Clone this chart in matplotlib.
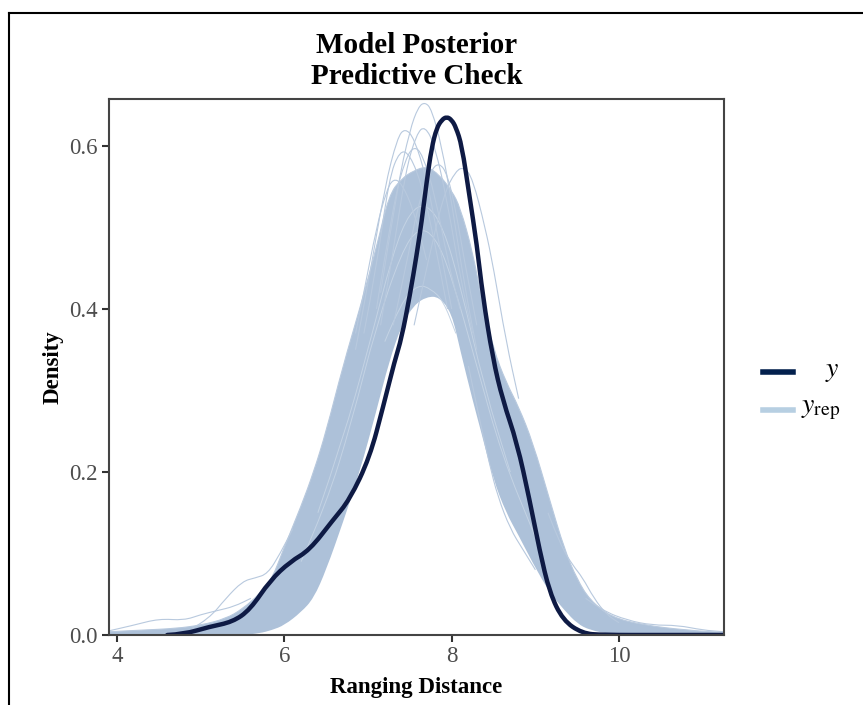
import numpy as np
import matplotlib
matplotlib.use("Agg")
from matplotlib import pyplot as plt
from matplotlib.lines import Line2D
from matplotlib.path import Path
from matplotlib.patches import PathPatch

y_x = [4.6, 4.8, 5.1, 5.38, 5.59, 5.83, 6.07, 6.30, 6.58, 6.78, 7.02, 7.18,
       7.32, 7.40, 7.50, 7.58, 7.64, 7.70, 7.76, 7.82, 7.88, 7.94, 8.00,
       8.05, 8.12, 8.21, 8.30, 8.37, 8.49, 8.61, 8.78, 8.93, 9.05, 9.17,
       9.33, 9.56, 9.80, 10.5, 11.3]
y_dens = [0.0, 0.001, 0.010, 0.016, 0.031, 0.067, 0.090, 0.104, 0.141, 0.166,
          0.218, 0.280, 0.337, 0.364, 0.417, 0.466, 0.507, 0.556, 0.598, 0.622,
          0.632, 0.636, 0.632, 0.623, 0.601, 0.540, 0.479, 0.417, 0.340, 0.288,
          0.236, 0.166, 0.104, 0.052, 0.018, 0.002, 0.0, 0.0, 0.0]

# envelope of the dense y_rep bundle
band_x = [3.90, 4.30, 4.70, 5.00, 5.30, 5.50, 5.70, 5.85, 6.00, 6.20, 6.35,
          6.50, 6.70, 6.90, 7.10, 7.25, 7.40, 7.55, 7.70, 7.85, 8.00, 8.10,
          8.25, 8.35, 8.50, 8.65, 8.80, 8.97, 9.17, 9.35, 9.50, 9.65, 9.90,
          10.30, 10.80, 11.25]
band_hi = [0.004, 0.006, 0.008, 0.012, 0.020, 0.032, 0.050, 0.068, 0.108,
           0.158, 0.200, 0.250, 0.330, 0.400, 0.475, 0.540, 0.560, 0.570,
           0.575, 0.565, 0.545, 0.525, 0.470, 0.415, 0.350, 0.310, 0.280,
           0.236, 0.166, 0.104, 0.068, 0.043, 0.022, 0.012, 0.006, 0.003]
band_lo = [0.0, 0.0, 0.0, 0.0, 0.0, 0.0, 0.002, 0.006, 0.012, 0.028, 0.045,
           0.080, 0.138, 0.200, 0.275, 0.335, 0.380, 0.405, 0.415, 0.415,
           0.395, 0.350, 0.288, 0.250, 0.190, 0.150, 0.122, 0.088, 0.052,
           0.030, 0.014, 0.006, 0.001, 0.0, 0.0, 0.0]

# single y_rep draws that stick out of the bundle
rep_curves = [
    ([7.15, 7.35, 7.50, 7.60, 7.68, 7.76, 7.88, 8.00, 8.15, 8.30],
     [0.42, 0.55, 0.62, 0.648, 0.654, 0.645, 0.60, 0.53, 0.43, 0.35]),
    ([6.85, 7.00, 7.20, 7.35, 7.44, 7.55, 7.70, 7.85, 8.00],
     [0.35, 0.43, 0.55, 0.61, 0.622, 0.61, 0.56, 0.48, 0.40]),
    ([6.95, 7.10, 7.25, 7.38, 7.50, 7.65, 7.80, 7.95],
     [0.37, 0.45, 0.56, 0.595, 0.59, 0.55, 0.48, 0.40]),
    ([7.15, 7.30, 7.45, 7.58, 7.68, 7.80, 7.95, 8.10, 8.25],
     [0.38, 0.47, 0.57, 0.615, 0.625, 0.60, 0.53, 0.44, 0.37]),
    ([7.55, 7.70, 7.90, 8.05, 8.15, 8.25, 8.40, 8.50, 8.65, 8.80],
     [0.38, 0.45, 0.54, 0.57, 0.574, 0.56, 0.50, 0.45, 0.36, 0.29]),
    ([6.85, 6.95, 7.10, 7.22, 7.30, 7.40, 7.55, 7.70],
     [0.37, 0.42, 0.50, 0.545, 0.56, 0.555, 0.52, 0.46]),
    ([7.10, 7.30, 7.45, 7.55, 7.65, 7.80, 7.95, 8.10],
     [0.40, 0.53, 0.585, 0.60, 0.59, 0.54, 0.46, 0.40]),
    ([7.30, 7.45, 7.60, 7.75, 7.85, 7.95, 8.05, 8.15, 8.30],
     [0.38, 0.45, 0.53, 0.57, 0.58, 0.565, 0.52, 0.46, 0.38]),
    ([4.90, 5.10, 5.30, 5.50, 5.65, 5.80, 5.95, 6.10],
     [0.008, 0.020, 0.045, 0.066, 0.070, 0.075, 0.10, 0.13]),
    ([3.90, 4.20, 4.50, 4.80, 5.00, 5.20, 5.40, 5.60],
     [0.005, 0.012, 0.020, 0.018, 0.025, 0.030, 0.035, 0.045]),
    ([8.20, 8.30, 8.45, 8.55, 8.70, 8.85, 9.00],
     [0.33, 0.28, 0.21, 0.17, 0.13, 0.105, 0.08]),
    ([9.15, 9.30, 9.45, 9.56, 9.70, 9.85, 10.0],
     [0.15, 0.11, 0.085, 0.071, 0.045, 0.025, 0.015]),
    ([9.60, 9.80, 10.10, 10.40, 10.70, 11.00, 11.25],
     [0.045, 0.030, 0.018, 0.012, 0.012, 0.006, 0.004]),
]

# faint draws inside the bundle (lighter streaks)
inner_curves = [
    ([7.20, 7.40, 7.60, 7.75, 7.90, 8.05],
     [0.36, 0.41, 0.43, 0.425, 0.41, 0.37]),
    ([6.40, 6.70, 7.00, 7.30, 7.50, 7.70, 7.90, 8.10, 8.40, 8.70],
     [0.15, 0.24, 0.35, 0.47, 0.52, 0.53, 0.50, 0.43, 0.30, 0.20]),
    ([6.20, 6.50, 6.80, 7.10, 7.40, 7.60, 7.80, 8.00, 8.30, 8.60, 9.00],
     [0.09, 0.16, 0.26, 0.38, 0.47, 0.50, 0.49, 0.44, 0.33, 0.22, 0.12]),
]

x_ticks = [4, 6, 8, 10]
y_ticks = [0.0, 0.2, 0.4, 0.6]

dark = "#0e1a44"
light = "#b8c9de"
band_col = "#adc1d9"


def smooth_path(xs, ys, first=Path.MOVETO):
    # quadratic bezier through midpoints, points act as control points
    verts = [(xs[0], ys[0])]
    codes = [first]
    for i in range(1, len(xs) - 1):
        verts.append((xs[i], ys[i]))
        verts.append(((xs[i] + xs[i + 1]) / 2, (ys[i] + ys[i + 1]) / 2))
        codes += [Path.CURVE3, Path.CURVE3]
    verts.append((xs[-1], ys[-1]))
    codes.append(Path.LINETO)
    return verts, codes


def draw_line(ax, xs, ys, **kw):
    v, c = smooth_path(xs, ys)
    ax.add_patch(PathPatch(Path(v, c), fill=False, **kw))


def draw_band(ax, xs, lo, hi, color):
    v1, c1 = smooth_path(xs, hi)
    v2, c2 = smooth_path(xs[::-1], lo[::-1], first=Path.LINETO)
    v = v1 + v2 + [(xs[0], hi[0])]
    c = c1 + c2 + [Path.CLOSEPOLY]
    ax.add_patch(PathPatch(Path(v, c), facecolor=color, edgecolor="none"))


def main():
    plt.rcParams["font.family"] = ["Liberation Serif", "DejaVu Serif"]
    plt.rcParams["mathtext.fontset"] = "stix"

    fig = plt.figure(figsize=(8.63, 7.05), dpi=100)
    ax = fig.add_axes([109 / 863, 1 - 635 / 705, 615 / 863, 536 / 705])

    draw_band(ax, band_x, band_lo, band_hi, band_col)
    draw_line(ax, band_x, band_hi, edgecolor=light, lw=0.8)
    for cx, cy in inner_curves:
        draw_line(ax, cx, cy, edgecolor="#c4d3e4", lw=0.7)
    for cx, cy in rep_curves:
        draw_line(ax, cx, cy, edgecolor=light, lw=0.8)
    draw_line(ax, y_x, y_dens, edgecolor=dark, lw=3.2, capstyle="round",
              joinstyle="round", zorder=5)

    ax.set_xlim(3.904, 11.254)
    ax.set_ylim(0, 0.6577)
    ax.set_xticks(x_ticks)
    ax.set_xticklabels([str(t) for t in x_ticks])
    ax.set_yticks(y_ticks)
    ax.set_yticklabels(["%.1f" % t for t in y_ticks])
    ax.tick_params(direction="out", length=5, width=1.5, color="#333333",
                   labelcolor="#4d4d4d", labelsize=16.5, pad=3)
    for s in ax.spines.values():
        s.set_color("#444444")
        s.set_linewidth(1.5)
        s.set_zorder(6)

    fig.text(416.5 / 863, 1 - 61 / 705, "Model Posterior\nPredictive Check",
             ha="center", va="center", fontsize=21, fontweight="bold",
             linespacing=1.15)
    fig.text(416.5 / 863, 1 - 688 / 705, "Ranging Distance", ha="center",
             va="center", fontsize=16.5, fontweight="bold")
    fig.text(53 / 863, 1 - 367 / 705, "Density", ha="center", va="center",
             rotation=90, fontsize=16.5, fontweight="bold")

    # legend drawn by hand
    fig.add_artist(Line2D([763 / 863, 793 / 863], [1 - 372 / 705] * 2,
                          color="#03204d", lw=4))
    fig.add_artist(Line2D([763 / 863, 793 / 863], [1 - 410 / 705] * 2,
                          color="#b7cfe2", lw=4))
    fig.text(839 / 863, 1 - 372 / 705, "$y$", ha="right", va="center",
             fontsize=20)
    fig.text(840 / 863, 1 - 410 / 705, r"$y_{\mathrm{rep}}$", ha="right",
             va="center", fontsize=20)

    # frame lines of the screenshot
    fig.add_artist(Line2D([9 / 863, 1.0], [1 - 13 / 705] * 2, color="black",
                          lw=1.5))
    fig.add_artist(Line2D([9 / 863, 9 / 863], [0.0, 1 - 13 / 705],
                          color="black", lw=1.5))

    fig.savefig("out.png", dpi=100)


if __name__ == "__main__":
    main()
